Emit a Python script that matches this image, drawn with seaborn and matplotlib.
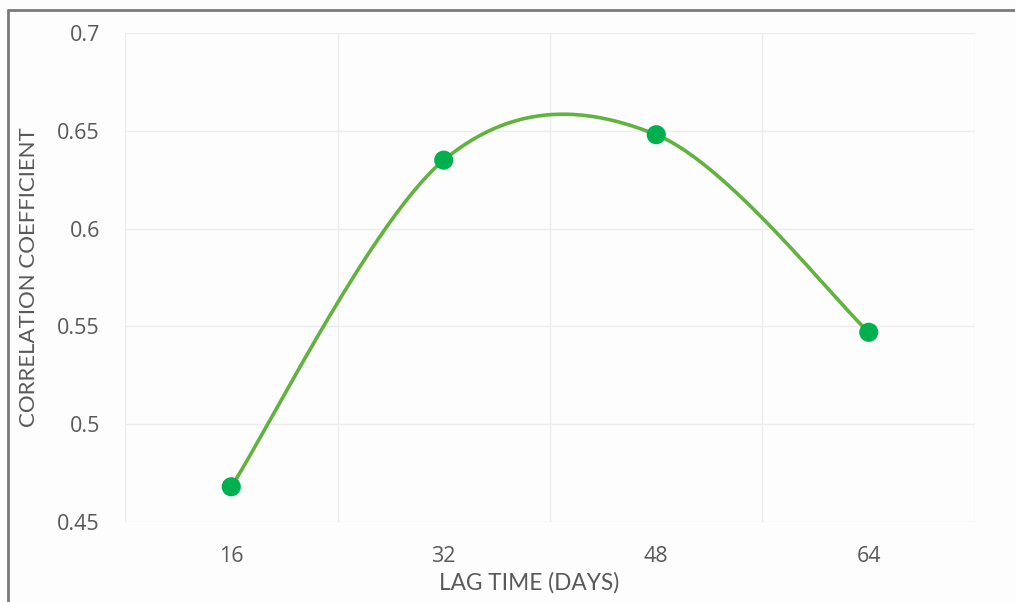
import numpy as np
import pandas as pd
import matplotlib
matplotlib.use("Agg")
import matplotlib.pyplot as plt
from matplotlib.lines import Line2D
import seaborn as sns

# ---- data ----
lag_days = ["16", "32", "48", "64"]
corr_coef = [0.468, 0.635, 0.648, 0.547]
y_ticks = [0.45, 0.5, 0.55, 0.6, 0.65, 0.7]
y_tick_labels = ["0.45", "0.5", "0.55", "0.6", "0.65", "0.7"]

sns.set_theme(style="white")
plt.rcParams['font.family'] = ['Lato', 'DejaVu Sans']

text_col = "#595959"
grid_col = "#ececec"
bg = "#fdfdfd"

fig = plt.figure(figsize=(10.15, 6.02), dpi=100, facecolor=bg)
ax = fig.add_axes([125/1015, 1-522/602, (975-125)/1015, (522-33)/602])
ax.set_facecolor(bg)

# Smoothed (Excel-like Catmull-Rom Bezier) line through the data points
xs = np.arange(len(lag_days), dtype=float)
ys = np.array(corr_coef, dtype=float)
P = np.column_stack([xs, ys])
Pext = np.vstack([P[0], P, P[-1]])
curve = []
t = np.linspace(0, 1, 60)
for i in range(len(P) - 1):
    p0, p1, p2, p3 = Pext[i], Pext[i+1], Pext[i+2], Pext[i+3]
    c1 = p1 + (p2 - p0) / 6.0
    c2 = p2 - (p3 - p1) / 6.0
    b = ((1-t)**3)[:, None]*p1 + (3*(1-t)**2*t)[:, None]*c1 + (3*(1-t)*t**2)[:, None]*c2 + (t**3)[:, None]*p2
    curve.append(b if i == 0 else b[1:])
curve = np.vstack(curve)
df_curve = pd.DataFrame({"x": curve[:, 0], "y": curve[:, 1]})
df_pts = pd.DataFrame({"x": xs, "y": ys})

sns.lineplot(data=df_curve, x="x", y="y", ax=ax, color="#62b23f", linewidth=2.6,
             sort=False, estimator=None, zorder=3)
sns.scatterplot(data=df_pts, x="x", y="y", ax=ax, color="#00b04f", s=190,
                edgecolor="none", zorder=4)

ax.set_xlim(-0.5, len(lag_days) - 0.5)
ax.set_ylim(0.45, 0.7)
ax.set_yticks(y_ticks)
ax.set_yticklabels(y_tick_labels)
ax.set_xticks(xs)
ax.set_xticklabels(lag_days)
ax.set_xticks(np.arange(-0.5, len(lag_days)), minor=True)
ax.grid(True, which="major", axis="y", color=grid_col, linewidth=1)
ax.grid(True, which="minor", axis="x", color=grid_col, linewidth=1)
ax.grid(False, which="major", axis="x")
for s in ax.spines.values():
    s.set_visible(False)
ax.tick_params(axis="both", which="both", length=0, labelsize=15.5, labelcolor=text_col)
ax.tick_params(axis="y", pad=18)
ax.tick_params(axis="x", pad=17)
for lbl in ax.get_xticklabels() + ax.get_yticklabels():
    lbl.set_fontfamily(['Open Sans', 'DejaVu Sans'])

ax.set_xlabel("LAG TIME (DAYS)", fontsize=16.3, color=text_col)
ax.xaxis.set_label_coords((529-125)/850, (522-572)/489)
ax.set_ylabel("CORRELATION COEFFICIENT", fontsize=16, color=text_col)
ax.yaxis.set_label_coords((39-125)/850, 0.5)

# outer frame (left and top edges of the chart border)
fig.add_artist(Line2D([7.5/1015, 7.5/1015], [0, 1-10/602], transform=fig.transFigure,
                      color="#7a7a7a", linewidth=2))
fig.add_artist(Line2D([7.5/1015, 1], [1-10/602, 1-10/602], transform=fig.transFigure,
                      color="#7a7a7a", linewidth=2))

fig.savefig("out.png", dpi=100, facecolor=bg)
